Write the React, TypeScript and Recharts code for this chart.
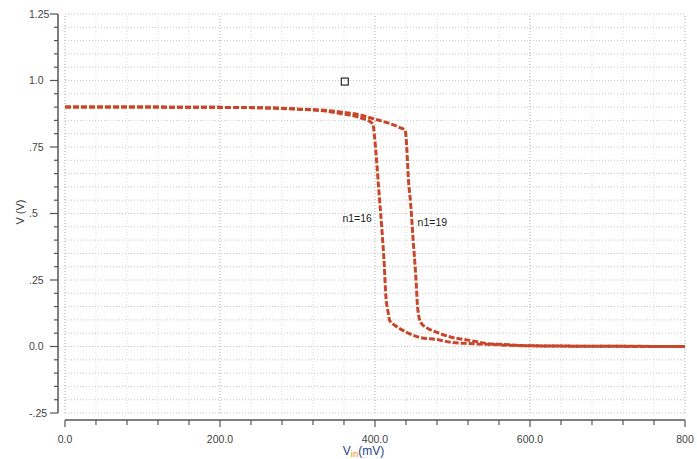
import React from 'react';
import { ComposedChart, Line, XAxis, YAxis, ReferenceLine, Scatter } from 'recharts';

// ---- data ----
const n16X = [0, 100, 200, 260, 300, 330, 355, 380, 397, 401, 405, 409, 412, 414, 417, 419, 426, 441, 458, 480, 500, 522, 545, 580, 620, 700, 800];
const n16V = [0.9, 0.9, 0.899, 0.897, 0.892, 0.887, 0.876, 0.861, 0.838, 0.737, 0.586, 0.436, 0.305, 0.19, 0.128, 0.098, 0.079, 0.053, 0.034, 0.026, 0.015, 0.011, 0.008, 0.004, 0.002, 0.001, 0];

const n19X = [0, 100, 200, 260, 300, 330, 355, 380, 397, 415, 432, 439, 441, 443, 446, 449, 453, 455, 459, 467, 480, 500, 522, 545, 565, 587, 620, 680, 800];
const n19V = [0.9, 0.9, 0.899, 0.897, 0.893, 0.889, 0.882, 0.871, 0.857, 0.842, 0.823, 0.812, 0.748, 0.635, 0.538, 0.41, 0.248, 0.147, 0.09, 0.07, 0.053, 0.034, 0.023, 0.011, 0.008, 0.004, 0.002, 0.001, 0];

const markerX = [361];
const markerV = [0.996];

const annoText = ['n1=16', 'n1=19'];
const annoX = [377, 474];
const annoV = [0.481, 0.466];

const xTicks = [0, 40, 80, 120, 160, 200, 240, 280, 320, 360, 400, 440, 480, 520, 560, 600, 640, 680, 720, 760, 800];
const xMajor = [0, 200, 400, 600, 800];
const xMajorLabels = ['0.0', '200.0', '400.0', '600.0', '800'];

const yTicks = [-0.25, -0.2, -0.15, -0.1, -0.05, 0, 0.05, 0.1, 0.15, 0.2, 0.25, 0.3, 0.35, 0.4, 0.45, 0.5, 0.55, 0.6, 0.65, 0.7, 0.75, 0.8, 0.85, 0.9, 0.95, 1.0, 1.05, 1.1, 1.15, 1.2, 1.25];
const yMajor = [-0.25, 0, 0.25, 0.5, 0.75, 1.0, 1.25];
const yMajorLabels = ['-.25', '0.0', '.25', '.5', '.75', '1.0', '1.25'];

const X_DOMAIN: [number, number] = [-9, 800];
const Y_DOMAIN: [number, number] = [-0.2763, 1.25];

const n16 = n16X.map((x, i) => ({ x, v: n16V[i] }));
const n19 = n19X.map((x, i) => ({ x, v: n19V[i] }));
const marker = markerX.map((x, i) => ({ x, v: markerV[i] }));
const anno = annoX.map((x, i) => ({ x, v: annoV[i], text: annoText[i] }));

const FONT = '"Liberation Sans", Arial, sans-serif';
const LINE_COLOR = '#c8472b';
const AXIS_COLOR = '#555';

const findMajor = (arr: number[], v: number) => arr.findIndex((m) => Math.abs(m - v) < 1e-6);

const YTick = (props: any) => {
  const { x, y, payload } = props;
  const idx = findMajor(yMajor, payload.value);
  const major = idx >= 0;
  return (
    <g>
      <line x1={x} x2={x - (major ? 8 : 4)} y1={y} y2={y} stroke={AXIS_COLOR} strokeWidth={1.2} />
      {major && (
        <text x={x - 29} y={y} dy="0.35em" textAnchor="start" fontSize={10.5} fill="#444" fontFamily={FONT}>
          {yMajorLabels[idx]}
        </text>
      )}
    </g>
  );
};

const XTick = (props: any) => {
  const { x, y, payload } = props;
  const idx = findMajor(xMajor, payload.value);
  const major = idx >= 0;
  return (
    <g>
      <line x1={x} x2={x} y1={y} y2={y + (major ? 7 : 5)} stroke={AXIS_COLOR} strokeWidth={1.2} />
      {major && (
        <text x={x} y={y + 23} textAnchor="middle" fontSize={10.5} fill="#444" fontFamily={FONT}>
          {xMajorLabels[idx]}
        </text>
      )}
    </g>
  );
};

const XLabel = (props: any) => {
  const vb = props.viewBox || { x: 0, y: 0, width: 0, height: 0 };
  const cx = vb.x + vb.width / 2 - 8;
  const cy = vb.y + 35;
  return (
    <text x={cx} y={cy} textAnchor="middle" fontSize={12} fontFamily={FONT}>
      <tspan fill="#1f3f8c">V</tspan>
      <tspan fill="#e8900c" fontSize={9.5} dy={1.5}>in</tspan>
      <tspan fill="#1f3f8c" dy={-1.5}>(mV)</tspan>
    </text>
  );
};

const YLabel = (props: any) => {
  const vb = props.viewBox || { x: 0, y: 0, width: 0, height: 0 };
  const cx = vb.x + 20;
  const cy = 212;
  return (
    <text x={cx} y={cy} textAnchor="middle" dy="0.35em" fontSize={11} fill="#333" fontFamily={FONT} transform={`rotate(-90 ${cx} ${cy})`}>
      V (V)
    </text>
  );
};

const SquareShape = (p: any) => (
  <rect x={p.cx - 3.5} y={p.cy - 3.5} width={7} height={7} fill="none" stroke="#000" strokeWidth={1} />
);

const TextShape = (p: any) => (
  <text x={p.cx} y={p.cy} dy="0.35em" textAnchor="middle" fontSize={10.5} fill="#222" fontFamily={FONT}>
    {p.payload.text}
  </text>
);

export default function App() {
  return (
    <div style={{ position: 'absolute', left: 0, top: 0, width: 697, height: 459, background: '#fff' }}>
      <ComposedChart width={697} height={459} margin={{ top: 14, right: 12, left: 0, bottom: 0 }}>
        <XAxis
          type="number"
          dataKey="x"
          domain={X_DOMAIN}
          ticks={xTicks}
          interval={0}
          allowDataOverflow
          axisLine={false}
          tickLine={false}
          tickSize={0}
          tickMargin={0}
          height={39}
          tick={<XTick />}
          label={{ content: <XLabel /> } as any}
        />
        <YAxis
          type="number"
          dataKey="v"
          domain={Y_DOMAIN}
          ticks={yTicks}
          interval={0}
          allowDataOverflow
          axisLine={false}
          tickLine={false}
          tickSize={0}
          tickMargin={0}
          width={58}
          tick={<YTick />}
          label={{ content: <YLabel /> } as any}
        />
        {yTicks.map((t) => (
          <ReferenceLine
            key={'h' + t}
            segment={[{ x: 0, y: t }, { x: 800, y: t }]}
            stroke="#c4c4c4"
            strokeDasharray="1 2"
            strokeWidth={1}
            ifOverflow="visible"
          />
        ))}
        {xTicks.map((t) => {
          const major = findMajor(xMajor, t) >= 0;
          return (
            <ReferenceLine
              key={'v' + t}
              segment={[{ x: t, y: -0.25 }, { x: t, y: 1.25 }]}
              stroke={major ? '#aaaaaa' : '#dddddd'}
              strokeDasharray="1 2"
              strokeWidth={1}
              ifOverflow="visible"
            />
          );
        })}
        <ReferenceLine segment={[{ x: X_DOMAIN[0], y: -0.25 }, { x: X_DOMAIN[0], y: 1.25 }]} stroke={AXIS_COLOR} strokeWidth={1.5} ifOverflow="visible" />
        <ReferenceLine segment={[{ x: 0, y: Y_DOMAIN[0] }, { x: 800, y: Y_DOMAIN[0] }]} stroke={AXIS_COLOR} strokeWidth={1.5} ifOverflow="visible" />
        <Line data={n16} dataKey="v" type="monotone" stroke={LINE_COLOR} strokeWidth={3} strokeDasharray="6 2" dot={false} isAnimationActive={false} />
        <Line data={n19} dataKey="v" type="monotone" stroke={LINE_COLOR} strokeWidth={3} strokeDasharray="6 2" dot={false} isAnimationActive={false} />
        <Scatter data={marker} dataKey="v" shape={<SquareShape />} isAnimationActive={false} />
        <Scatter data={anno} dataKey="v" shape={<TextShape />} isAnimationActive={false} />
      </ComposedChart>
    </div>
  );
}
